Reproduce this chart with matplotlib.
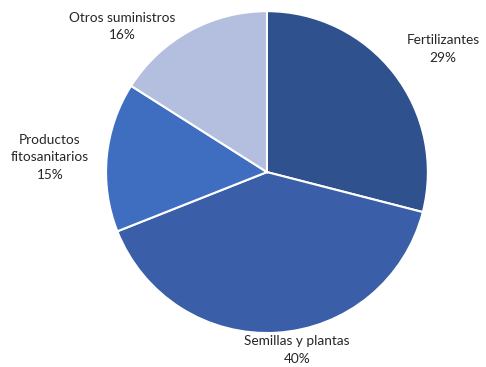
import matplotlib.pyplot as plt

labels = ['Fertilizantes', 'Semillas y plantas', 'Productos\nfitosanitarios', 'Otros suministros']
shares = [29, 40, 15, 16]
colors = ['#2F528F', '#3A5EA7', '#3F6DBF', '#B4BFE0']

# label anchor points in pie units (radius = 1)
label_pos = [(1.095, 0.764), (0.186, -1.106), (-1.348, 0.093), (-0.90, 0.904)]

plt.rcParams['font.family'] = ['Lato', 'DejaVu Sans']

fig = plt.figure(figsize=(4.86, 3.67), dpi=100)
ax = fig.add_axes([0.218, 0.0926, 0.6626, 0.877])

ax.pie(shares, colors=colors, startangle=90, counterclock=False,
       wedgeprops=dict(edgecolor='white', linewidth=1.5))

for lab, val, (x, y) in zip(labels, shares, label_pos):
    ax.text(x, y, f'{lab}\n{val}%', ha='center', va='center', fontsize=9.8,
            color='#262626', linespacing=1.55, clip_on=False)

ax.set_xlim(-1, 1)
ax.set_ylim(-1, 1)
ax.set_aspect('equal')

fig.savefig('out.png', dpi=100)
